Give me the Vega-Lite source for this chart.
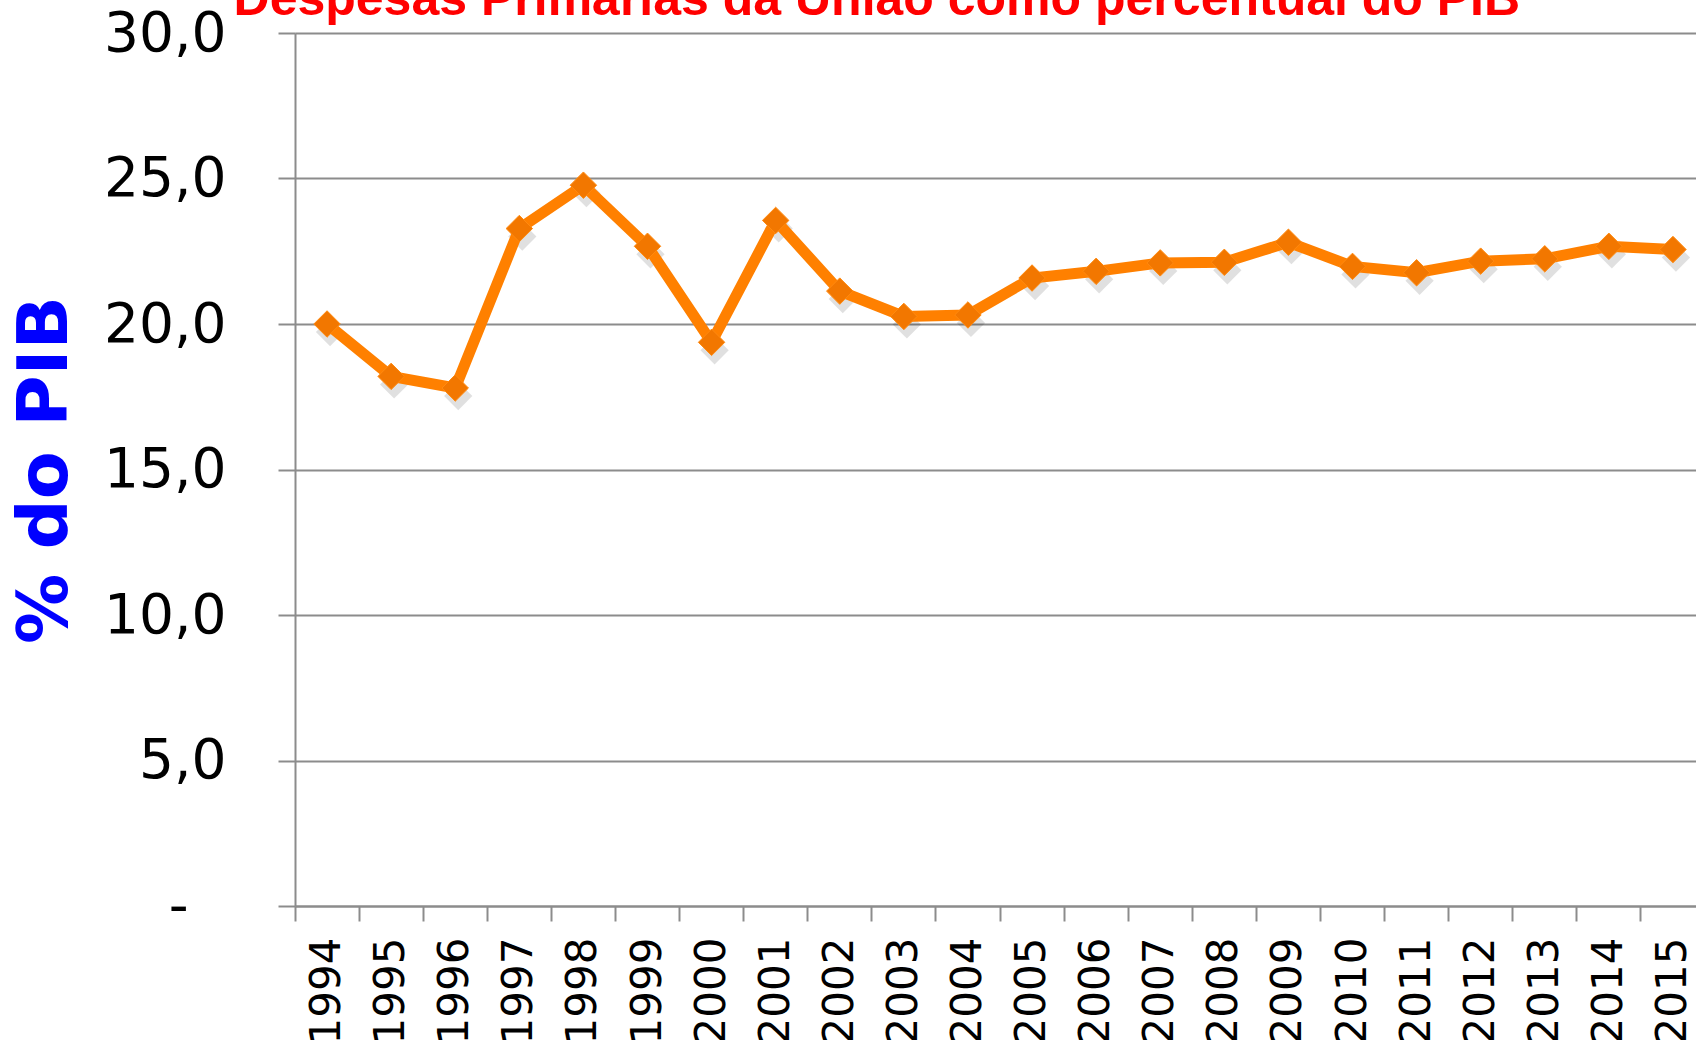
{
  "$schema": "https://vega.github.io/schema/vega-lite/v6.json",
  "autosize": {"type": "none"},
  "width": 1401,
  "height": 873,
  "padding": {"left": 295, "top": 33, "right": 0, "bottom": 134},
  "background": "white",
  "title": {
    "text": "Despesas Primárias da União como percentual do PIB",
    "font": "Liberation Sans",
    "fontSize": 50,
    "fontWeight": "bold",
    "color": "#FF0000",
    "anchor": "start",
    "dx": 223,
    "dy": 59,
    "baseline": "alphabetic",
    "offset": 0
  },
  "data": {
    "values": [
      {"ano": "1994", "valor": 20.0},
      {"ano": "1995", "valor": 18.2},
      {"ano": "1996", "valor": 17.8},
      {"ano": "1997", "valor": 23.28},
      {"ano": "1998", "valor": 24.77},
      {"ano": "1999", "valor": 22.67},
      {"ano": "2000", "valor": 19.37},
      {"ano": "2001", "valor": 23.56},
      {"ano": "2002", "valor": 21.13},
      {"ano": "2003", "valor": 20.26},
      {"ano": "2004", "valor": 20.31},
      {"ano": "2005", "valor": 21.58},
      {"ano": "2006", "valor": 21.81},
      {"ano": "2007", "valor": 22.1},
      {"ano": "2008", "valor": 22.12},
      {"ano": "2009", "valor": 22.81},
      {"ano": "2010", "valor": 21.98},
      {"ano": "2011", "valor": 21.76},
      {"ano": "2012", "valor": 22.16},
      {"ano": "2013", "valor": 22.24},
      {"ano": "2014", "valor": 22.67},
      {"ano": "2015", "valor": 22.56}
    ]
  },
  "encoding": {
    "x": {
      "field": "ano",
      "type": "ordinal",
      "scale": {"type": "band", "paddingInner": 0, "paddingOuter": 0, "range": [0, 1410]},
      "axis": {
        "title": null,
        "bandPosition": 0,
        "labelAngle": 270,
        "labelFont": "DejaVu Sans",
        "labelFontSize": 42,
        "labelColor": "#000000",
        "labelPadding": 16,
        "tickSize": 15,
        "tickColor": "#8c8c8c",
        "tickWidth": 2,
        "domainColor": "#8c8c8c",
        "domainWidth": 2,
        "grid": false
      }
    },
    "y": {
      "field": "valor",
      "type": "quantitative",
      "scale": {"domain": [0, 30], "nice": false, "zero": true},
      "axis": {
        "title": "% do PIB",
        "titleFont": "DejaVu Sans",
        "titleFontSize": 70,
        "titleFontWeight": "bold",
        "titleColor": "#0000FF",
        "titlePadding": 22,
        "values": [0, 5, 10, 15, 20, 25, 30],
        "labelExpr": "datum.value == 0 ? '-' : replace(format(datum.value, '.1f'), '.', ',')",
        "labelFont": "DejaVu Sans",
        "labelFontSize": 55,
        "labelColor": "#000000",
        "labelPadding": {"condition": {"test": "datum.value == 0", "value": 90}, "value": 52},
        "tickSize": 17,
        "tickColor": "#8c8c8c",
        "tickWidth": 2,
        "domainColor": "#8c8c8c",
        "domainWidth": 2,
        "grid": true,
        "gridColor": "#8c8c8c",
        "gridWidth": 2
      }
    }
  },
  "layer": [
    {
      "mark": {"type": "point", "shape": "diamond", "filled": true, "color": "#000000", "opacity": 0.12, "size": 800, "xOffset": 3, "yOffset": 8}
    },
    {
      "mark": {"type": "line", "color": "#FF8000", "strokeWidth": 11, "strokeJoin": "miter"}
    },
    {
      "mark": {"type": "point", "shape": "diamond", "filled": true, "color": "#F27700", "opacity": 1, "size": 700, "stroke": "#FF8A10", "strokeWidth": 1}
    }
  ]
}
